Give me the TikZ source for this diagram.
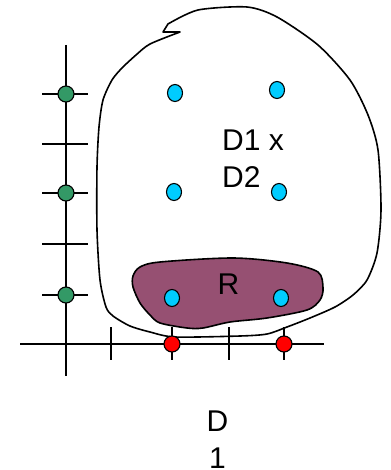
\documentclass[tikz,border=0pt]{standalone}
\usepackage{fontspec}
\setmainfont{Liberation Sans}
\usetikzlibrary{shapes.geometric}
\definecolor{dotgreen}{RGB}{51,153,102}
\definecolor{dotcyan}{RGB}{0,204,255}
\definecolor{dotred}{RGB}{255,0,0}
\definecolor{regionR}{RGB}{150,80,114}
\tikzset{
  axis/.style={line width=1.6pt},
  outline/.style={line width=1.6pt, line join=round},
  gdot/.style={circle, draw, line width=1.1pt, fill=dotgreen, minimum size=16pt, inner sep=0pt},
  rdot/.style={circle, draw, line width=1.1pt, fill=dotred, minimum size=16pt, inner sep=0pt},
  cdot/.style={ellipse, draw, line width=1.1pt, fill=dotcyan, minimum width=15pt, minimum height=17pt, inner sep=0pt},
  lbl/.style={font=\fontsize{30}{37}\selectfont, inner sep=0pt}
}
\begin{document}
\begin{tikzpicture}[x=1pt, y=-1pt]
\useasboundingbox (0,0) rectangle (390,470);
% axes
\coordinate (vtop) at (66,45);
\coordinate (vbot) at (66,376);
\coordinate (hleft) at (20,344);
\coordinate (hright) at (324,344);
\draw[axis] (vtop) -- (vbot);
\draw[axis] (hleft) -- (hright);
% vertical-axis ticks
\foreach \y in {94,144,193,244,295}
  \draw[axis] (42,\y) -- (88,\y);
% horizontal-axis ticks
\foreach \x in {111,172,229,284}
  \draw[axis] (\x,327) -- (\x,360);
% big region D1 x D2
\draw[outline] plot[smooth, tension=0.45] coordinates {
  (168,24) (198,10) (247,7) (277,17) (318,45) (350,80) (368,115) (378,150)
  (381,210) (377,253) (367,280) (353,295) (335,307) (310,318) (287,327)
  (267,334) (240,336) (175,337) (150,332) (130,326) (113,316) (106,307)
  (100,280) (97,230) (97,167) (99,127) (103,100) (112,80) (122,68) (136,55)
  (150,44) (180,32)} -- (163,32) -- cycle;
% region R
\draw[outline, fill=regionR] plot[smooth cycle, tension=0.5] coordinates {
  (140,267) (160,262) (233,258) (287,263) (318,272) (323,288) (320,300)
  (307,310) (267,318) (230,322) (203,328) (187,328) (160,323) (150,315)
  (140,303) (133,287) (133,276)};
% labels
\node[lbl, anchor=north west, align=left] (prod) at (222,129.5) {D1 x\\D2};
\node[lbl, anchor=base] (rlab) at (228.5,294) {R};
\node[lbl, anchor=north, align=center] (dlab) at (217.5,410.5) {D\\1};
% dots
\node[gdot] (g1) at (66,94) {};
\node[gdot] (g2) at (66,193) {};
\node[gdot] (g3) at (66,295) {};
\node[rdot] (r1) at (172,344) {};
\node[rdot] (r2) at (284,344) {};
\node[cdot] (c1) at (175,93) {};
\node[cdot] (c2) at (277,90) {};
\node[cdot] (c3) at (174,192) {};
\node[cdot] (c4) at (279,192) {};
\node[cdot] (c5) at (172,298) {};
\node[cdot] (c6) at (281,298) {};
\end{tikzpicture}
\end{document}
